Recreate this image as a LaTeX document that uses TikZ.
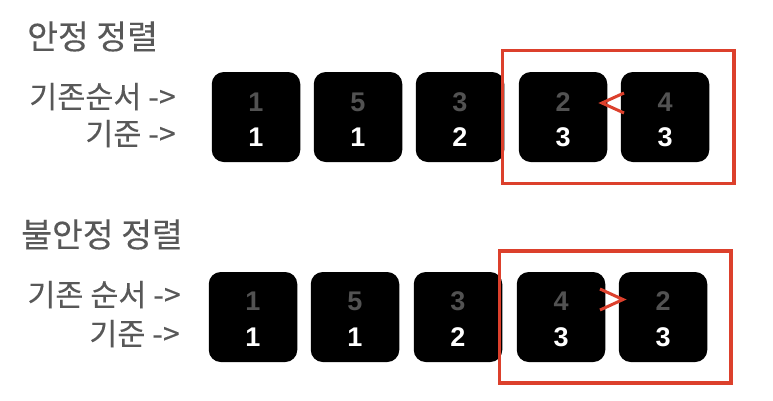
\documentclass[tikz,border=0pt]{standalone}
\usepackage{fontspec}
\setmainfont{Noto Sans CJK KR}
\newfontfamily\korfont{Noto Sans CJK KR}[FakeBold=0.1]
\newfontfamily\digitfont{Liberation Sans}
\definecolor{txtgray}{RGB}{88,88,88}
\definecolor{dgray}{RGB}{82,82,82}
\definecolor{redline}{RGB}{220,64,44}
\tikzset{
  cardbox/.style={fill=black, rounded corners=12pt, minimum width=88.5pt, minimum height=90pt, inner sep=0pt},
  gdigit/.style={text=dgray, font=\digitfont\bfseries\fontsize{27}{27}\selectfont, anchor=base, inner sep=0pt},
  wdigit/.style={text=white, font=\digitfont\bfseries\fontsize{27}{27}\selectfont, anchor=base, inner sep=0pt},
  titletext/.style={text=txtgray, font=\korfont\fontsize{33.5}{33.5}\selectfont, anchor=base west, inner sep=0pt},
  labeltext/.style={text=txtgray, font=\korfont\fontsize{30.5}{30.5}\selectfont, anchor=base east, inner sep=0pt},
  redframe/.style={draw=redline, line width=3.5pt},
  redmark/.style={draw=redline, line width=3pt}
}
\begin{document}
\begin{tikzpicture}[x=1pt,y=-1pt]
\useasboundingbox[fill=white] (0,0) rectangle (773,400);
% top section
\node[titletext] (t1) at (27,49) {안정 정렬};
\node[labeltext] (l1) at (176,108) {기존순서 ->};
\node[labeltext] (l2) at (176,145) {기준 ->};
\foreach \i/\x/\a/\b in {1/256/1/1, 2/358/5/1, 3/460/3/2, 4/563/2/3, 5/665/4/3}{
  \node[cardbox] (s\i) at (\x,117) {};
  \node[gdigit] (sa\i) at (\x,111) {\a};
  \node[wdigit] (sb\i) at (\x,146) {\b};
}
\node[redframe, minimum width=231.5pt, minimum height=133pt] (r1) at (618.25,117) {};
\coordinate (c1a) at (624,93);
\coordinate (c1b) at (602,103);
\coordinate (c1c) at (624,113);
\draw[redmark] (c1a) -- (c1b) -- (c1c);
% bottom section
\node[titletext] (t2) at (21,247) {불안정 정렬};
\node[labeltext] (l3) at (181,306) {기존 순서 ->};
\node[labeltext] (l4) at (180,345) {기준 ->};
\foreach \i/\x/\a/\b in {1/253/1/1, 2/355/5/1, 3/458/3/2, 4/561/4/3, 5/663/2/3}{
  \node[cardbox] (u\i) at (\x,317) {};
  \node[gdigit] (ua\i) at (\x,310.5) {\a};
  \node[wdigit] (ub\i) at (\x,346) {\b};
}
\node[redframe, minimum width=231.5pt, minimum height=132pt] (r2) at (615,317) {};
\coordinate (c2a) at (600,289);
\coordinate (c2b) at (623,299.5);
\coordinate (c2c) at (600,310);
\draw[redmark] (c2a) -- (c2b) -- (c2c);
\end{tikzpicture}
\end{document}
